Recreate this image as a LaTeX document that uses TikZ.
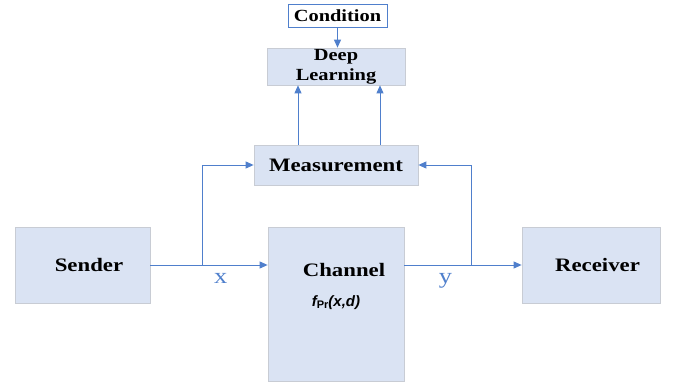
\documentclass[tikz,border=0pt]{standalone}
\usepackage{fontspec}
\setmainfont{Liberation Serif}[FakeStretch=1.2]
\newfontfamily\funcfont{Liberation Sans}
\usetikzlibrary{arrows.meta,positioning}
\definecolor{boxfill}{HTML}{DAE3F3}
\definecolor{boxline}{HTML}{C8CCD4}
\definecolor{linkblue}{HTML}{4F7FCC}
\begin{document}
\begin{tikzpicture}[x=1pt,y=-1pt,>={Triangle[length=8pt,width=7pt]}]
\tikzset{
  block/.style={draw=boxline,fill=boxfill,line width=0.8pt,font=\fontsize{19}{21}\selectfont\bfseries,align=center,inner sep=1pt},
  cond/.style={draw=linkblue,fill=white,line width=0.9pt,font=\fontsize{17}{19}\selectfont\bfseries,minimum width=99pt,minimum height=23pt,inner sep=0pt},
  link/.style={draw=linkblue,line width=0.9pt},
  sig/.style={text=linkblue,font=\fontsize{22}{22}\selectfont,inner sep=8pt}
}
\useasboundingbox (0,0) rectangle (678,386);
\node[cond] (condition) at (337.5,15.5) {Condition};
\node[block,minimum width=138pt,minimum height=33pt,font=\fontsize{17}{20}\selectfont\bfseries] (deep) at (336,66.5) {Deep\\Learning};
\node[block,minimum width=164pt,minimum height=40pt] (meas) at (336,165) {Measurement};
\node[block,minimum width=135pt,minimum height=76pt] (sender) at (82.5,265) {\hspace*{13pt}Sender};
\node[block,minimum width=136pt,minimum height=154pt] (channel) at (336,304) {};
\node[block,minimum width=138pt,minimum height=76pt] (receiver) at (591,265) {\hspace*{13pt}Receiver};
\node[font=\fontsize{19}{21}\selectfont\bfseries,below=37pt of channel.north,xshift=8pt,inner sep=0pt] (chtitle) {Channel};
\node[font=\funcfont\fontsize{15}{17}\selectfont\bfseries,below=18pt of chtitle,xshift=-8pt,inner sep=0pt] (chfunc) {\itshape f\raisebox{-2pt}{\upshape\fontsize{11}{11}\selectfont Pr}\itshape(x,d)};
\coordinate (xsplit) at (202,265);
\coordinate (ysplit) at (471,265);
\draw[link,->] (sender.east) -- node[sig,below,pos=0.6]{x} (sender.east -| channel.west);
\draw[link,->] (xsplit) |- (meas.west);
\draw[link,->] (channel.east |- receiver.west) -- node[sig,below,pos=0.35]{y} (receiver.west);
\draw[link,->] (ysplit) |- (meas.east);
\draw[link,->] ([xshift=-38pt]meas.north) -- ([xshift=-38pt]deep.south);
\draw[link,->] ([xshift=44pt]meas.north) -- ([xshift=44pt]deep.south);
\draw[link,->] (condition.south) -- (condition.south |- deep.north);
\end{tikzpicture}
\end{document}
